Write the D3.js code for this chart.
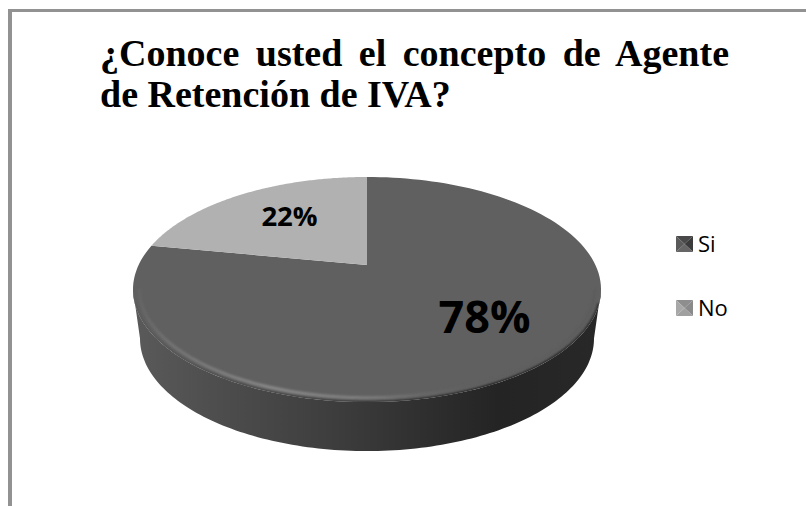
<!DOCTYPE html>
<html><head><meta charset="utf-8">
<script src="https://cdn.jsdelivr.net/npm/d3@7/dist/d3.min.js"></script>
<style>html,body{margin:0;padding:0;background:#fff}svg{display:block}</style>
</head><body><svg id="c" width="806" height="506"></svg>
<script>
const categories = ["Si", "No"];
const values = [78, 22];
const valueLabels = ["78%", "22%"];
const titleLines = ["¿Conoce usted el concepto de Agente", "de Retención de IVA?"];

const svg = d3.select("#c");
const defs = svg.append("defs");
const apex = {x:367, y:265}, k = 0.2178, A = -107.2, R = 228.4, depth = 49;
const proj = (a, scale=1) => {
  const X = Math.sin(a)*scale, Y = Math.cos(a)*scale, d = 1 + k*Y;
  return [apex.x + R*X/d, apex.y + A*Y/d];
};
const pie = d3.pie().sort(null).value(d => d);
const arcs = pie(values);
const line = d3.line();
const arcPts = (a0, a1, s=1, n=140) => d3.range(n+1).map(i => proj(a0+(a1-a0)*i/n, s));

// frame
svg.append("rect").attr("x",8).attr("y",9).attr("width",4).attr("height",497).attr("fill","#929292");
svg.append("rect").attr("x",8).attr("y",9).attr("width",798).attr("height",3).attr("fill","#929292");

// title
titleLines.forEach((t,i)=>{
  const el = svg.append("text").attr("x",100).attr("y",[65.5,107][i]).text(t)
    .attr("font-family","'Liberation Serif',serif").attr("font-weight","bold").attr("font-size",38).attr("fill","#000");
  if(i===0){
    const w = el.node().getComputedTextLength();
    el.attr("word-spacing",(629-w)/(t.split(" ").length-1));
  }
});

// side wall
const g = defs.append("linearGradient").attr("id","side").attr("gradientUnits","userSpaceOnUse")
  .attr("x1",133).attr("x2",601).attr("y1",0).attr("y2",0);
[[0,"#5a5a5a"],[0.2,"#4c4c4c"],[0.42,"#3e3e3e"],[0.62,"#2f2f2f"],[0.78,"#242424"],[1,"#282828"]]
  .forEach(([o,c])=>g.append("stop").attr("offset",o).attr("stop-color",c));
const rimR = Math.acos(-k), rimL = 2*Math.PI - rimR;
const front = arcPts(rimR, rimL);
const lower = front.slice().reverse().map(([x,y]) => [apex.x + (x-apex.x)*0.97, y+depth]);
svg.append("path").attr("d", line(front.concat(lower))+"Z").attr("fill","url(#side)");

// top face
const fills = ["#606060","#b1b1b1"];
svg.selectAll("path.slice").data(arcs).join("path").attr("class","slice")
  .attr("d", d => line([[apex.x,apex.y], ...arcPts(d.startAngle,d.endAngle)])+"Z")
  .attr("fill",(d,i)=>fills[i]);

// soft bevel along the front rim
const bev = defs.append("linearGradient").attr("id","bev").attr("gradientUnits","userSpaceOnUse")
  .attr("x1",133).attr("x2",601).attr("y1",0).attr("y2",0);
[[0,"#626262"],[0.08,"#747474"],[0.3,"#8a8a8a"],[0.5,"#7e7e7e"],[0.62,"#686868"],[0.72,"#606060"],[1,"#5c5c5c"]]
  .forEach(([o,c])=>bev.append("stop").attr("offset",o).attr("stop-color",c));
defs.append("filter").attr("id","blur").attr("x","-5%").attr("y","-5%").attr("width","110%").attr("height","110%")
  .append("feGaussianBlur").attr("stdDeviation",1.2);
defs.append("clipPath").attr("id","wallClip").append("path")
  .attr("d", line(arcPts(0,2*Math.PI,1))+"Z");
const rim = svg.append("g").attr("clip-path","url(#wallClip)");
rim.append("path").attr("d", line(arcPts(rimR+0.12, rimL-0.12, 1.0))).attr("fill","none")
  .attr("stroke","url(#side)").attr("stroke-width",3).attr("filter","url(#blur)");
rim.append("path").attr("d", line(arcPts(rimR, rimL, 0.975))).attr("fill","none")
  .attr("stroke","url(#bev)").attr("stroke-width",3).attr("filter","url(#blur)");

// data labels
const labelX = [484.5,289.5], labelY = [333,226], labelSize = [45,27.5];
svg.selectAll("text.v").data(valueLabels).join("text").attr("class","v")
  .attr("x",(d,i)=>labelX[i]).attr("y",(d,i)=>labelY[i])
  .attr("font-size",(d,i)=>labelSize[i]).attr("text-anchor","middle")
  .attr("font-family","'Open Sans',sans-serif").attr("font-weight","bold").attr("fill","#000").text(d=>d);

// legend
const legY = d3.scalePoint().domain(categories).range([244,308]);
const legendCols = {Si:["#4a4a4a","#3a3a3a","#666666","#5a5a5a"], No:["#8e8e8e","#8a8a8a","#a0a0a0","#a8a8a8"]};
defs.append("filter").attr("id","soft").append("feGaussianBlur").attr("stdDeviation",0.5);
const lg = svg.selectAll("g.l").data(categories).join("g").attr("class","l")
  .attr("transform",d=>`translate(676,${legY(d)-8})`);
const s = 17, h = 16;
const sw = lg.append("g").attr("filter","url(#soft)");
[[[0,0],[s,0],[s/2,h/2]],[[s,0],[s,h],[s/2,h/2]],[[0,h],[s,h],[s/2,h/2]],[[0,0],[0,h],[s/2,h/2]]].forEach((tri,i)=>{
  sw.append("path").attr("d",line(tri)+"Z").attr("fill",d=>legendCols[d][i]);
});
lg.append("text").attr("x",22).attr("y",16).attr("font-family","'Open Sans',sans-serif").attr("font-size",22).attr("fill","#000").text(d=>d);
</script></body></html>
